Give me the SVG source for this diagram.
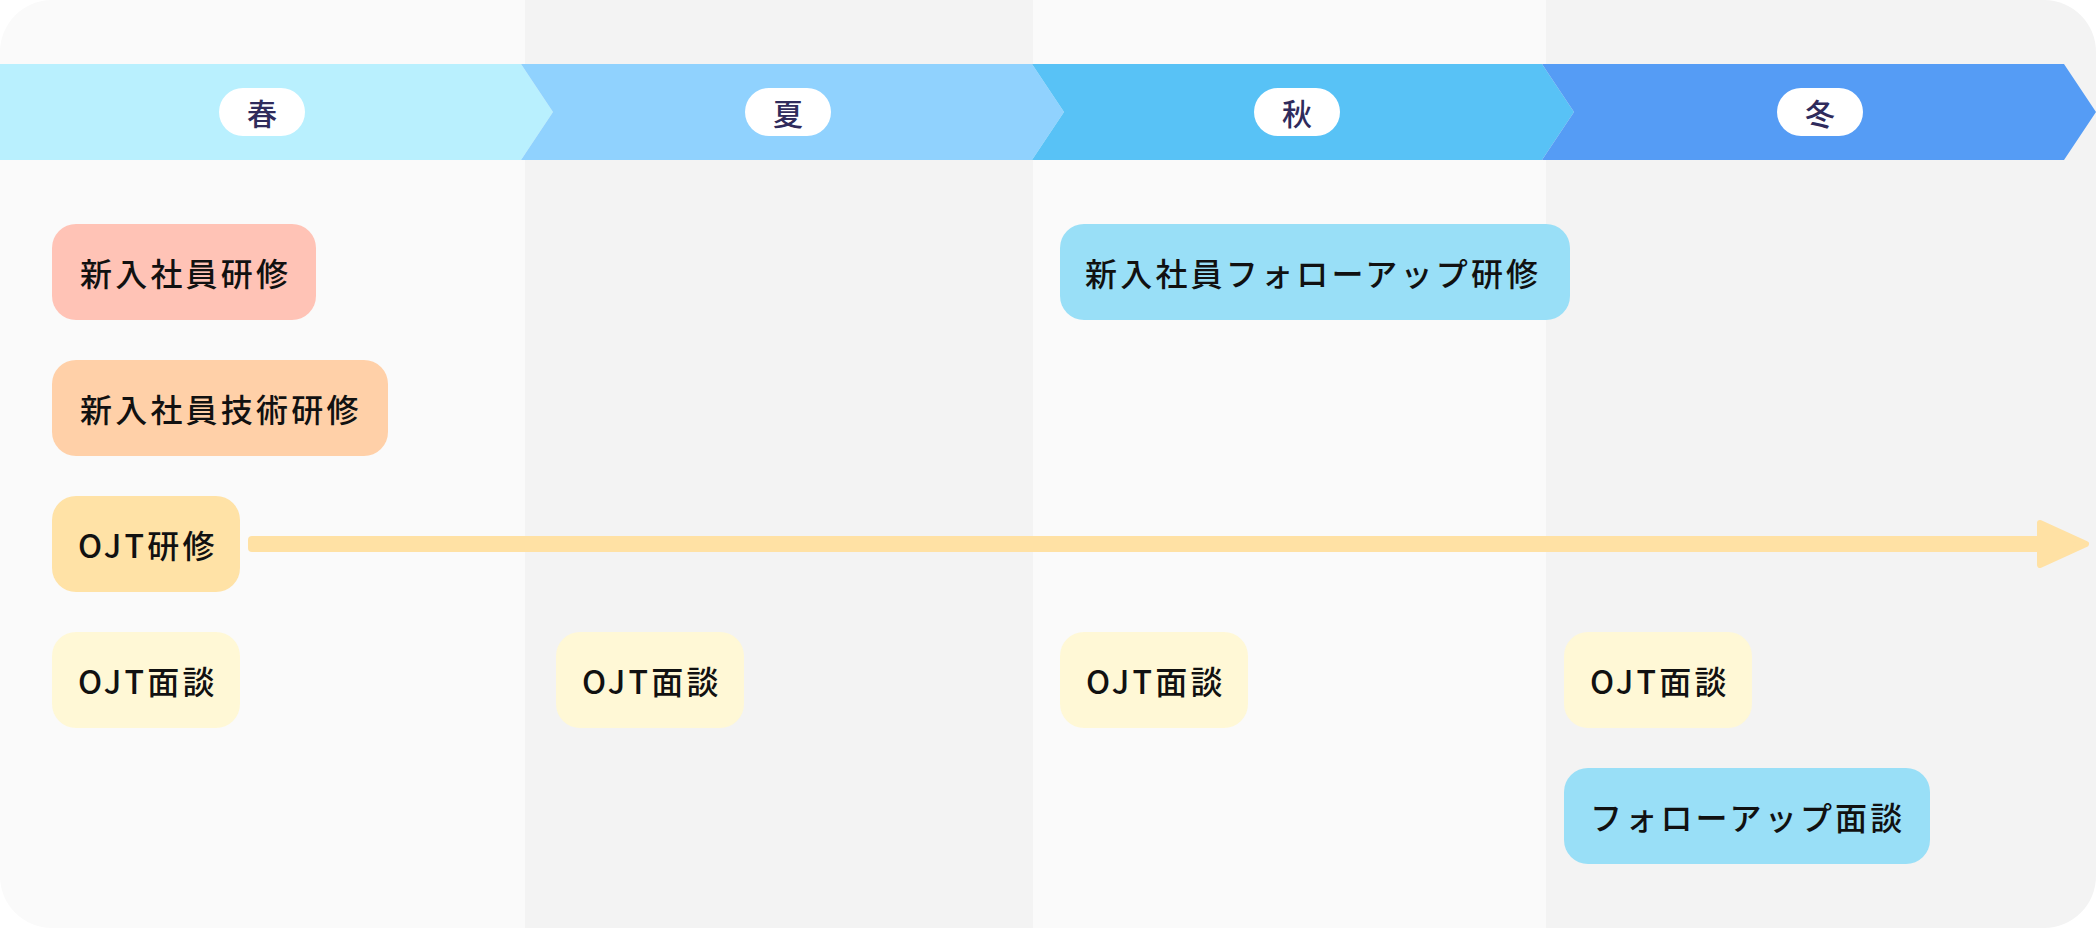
<svg xmlns="http://www.w3.org/2000/svg" width="2096" height="928" viewBox="0 0 2096 928">
<style>
.lbl{font-family:"Noto Sans CJK JP","Noto Sans CJK SC",sans-serif;font-size:32px;font-weight:500;fill:#111;letter-spacing:3.2px;dominant-baseline:central}
.season{font-family:"Noto Sans CJK JP","Noto Sans CJK SC",sans-serif;font-size:30px;font-weight:500;fill:#2f2b5c;text-anchor:middle;dominant-baseline:central}
.pill{fill:#ffffff}
</style>
<defs>
<clipPath id="frame"><rect x="0" y="0" width="2096" height="928" rx="52" ry="52"/></clipPath>
</defs>
<rect width="2096" height="928" fill="#ffffff"/>
<g id="background" clip-path="url(#frame)">
<rect x="0" y="0" width="525" height="928" fill="#fafafa"/>
<rect x="525" y="0" width="508" height="928" fill="#f3f3f3"/>
<rect x="1033" y="0" width="513" height="928" fill="#fafafa"/>
<rect x="1546" y="0" width="550" height="928" fill="#f3f3f3"/>
</g>
<g id="season-spring">
<polygon points="0,64 521,64 553,112 521,160 0,160" fill="#b9f0fe"/>
<rect class="pill" x="219" y="88" width="86" height="48" rx="24"/>
<text class="season" x="262" y="112">春</text>
</g>
<g id="season-summer">
<polygon points="521,64 1032,64 1064,112 1032,160 521,160 553,112" fill="#90d2fe"/>
<rect class="pill" x="745" y="88" width="86" height="48" rx="24"/>
<text class="season" x="788" y="112">夏</text>
</g>
<g id="season-autumn">
<polygon points="1032,64 1542,64 1574,112 1542,160 1032,160 1064,112" fill="#58c2f6"/>
<rect class="pill" x="1254" y="88" width="86" height="48" rx="24"/>
<text class="season" x="1297" y="112">秋</text>
</g>
<g id="season-winter">
<polygon points="1542,64 2064,64 2096,112 2064,160 1542,160 1574,112" fill="#559cf5"/>
<rect class="pill" x="1777" y="88" width="86" height="48" rx="24"/>
<text class="season" x="1820" y="112">冬</text>
</g>
<g id="connectors">
<rect x="248" y="536" width="1796" height="16" rx="4" fill="#ffe1a4"/>
<polygon points="2040,523 2086,544 2040,565" fill="#ffe1a4" stroke="#ffe1a4" stroke-width="6" stroke-linejoin="round"/>
</g>
<g id="node-shinnyu-kenshu">
<rect x="52" y="224" width="264" height="96" rx="24" fill="#ffc3b6"/>
<text class="lbl" x="80" y="272">新入社員研修</text>
</g>
<g id="node-gijutsu-kenshu">
<rect x="52" y="360" width="336" height="96" rx="24" fill="#ffd0a8"/>
<text class="lbl" x="80" y="408">新入社員技術研修</text>
</g>
<g id="node-ojt-kenshu">
<rect x="52" y="496" width="188" height="96" rx="24" fill="#ffe2a6"/>
<text class="lbl" x="78" y="544">OJT研修</text>
</g>
<g id="node-ojt-mendan-1">
<rect x="52" y="632" width="188" height="96" rx="24" fill="#fff8d6"/>
<text class="lbl" x="78" y="680">OJT面談</text>
</g>
<g id="node-ojt-mendan-2">
<rect x="556" y="632" width="188" height="96" rx="24" fill="#fff8d6"/>
<text class="lbl" x="582" y="680">OJT面談</text>
</g>
<g id="node-ojt-mendan-3">
<rect x="1060" y="632" width="188" height="96" rx="24" fill="#fff8d6"/>
<text class="lbl" x="1086" y="680">OJT面談</text>
</g>
<g id="node-ojt-mendan-4">
<rect x="1564" y="632" width="188" height="96" rx="24" fill="#fff8d6"/>
<text class="lbl" x="1590" y="680">OJT面談</text>
</g>
<g id="node-followup-kenshu">
<rect x="1060" y="224" width="510" height="96" rx="24" fill="#99dff7"/>
<text class="lbl" x="1085" y="272">新入社員フォローアップ研修</text>
</g>
<g id="node-followup-mendan">
<rect x="1564" y="768" width="366" height="96" rx="24" fill="#99dff7"/>
<text class="lbl" x="1590" y="816">フォローアップ面談</text>
</g>
</svg>
